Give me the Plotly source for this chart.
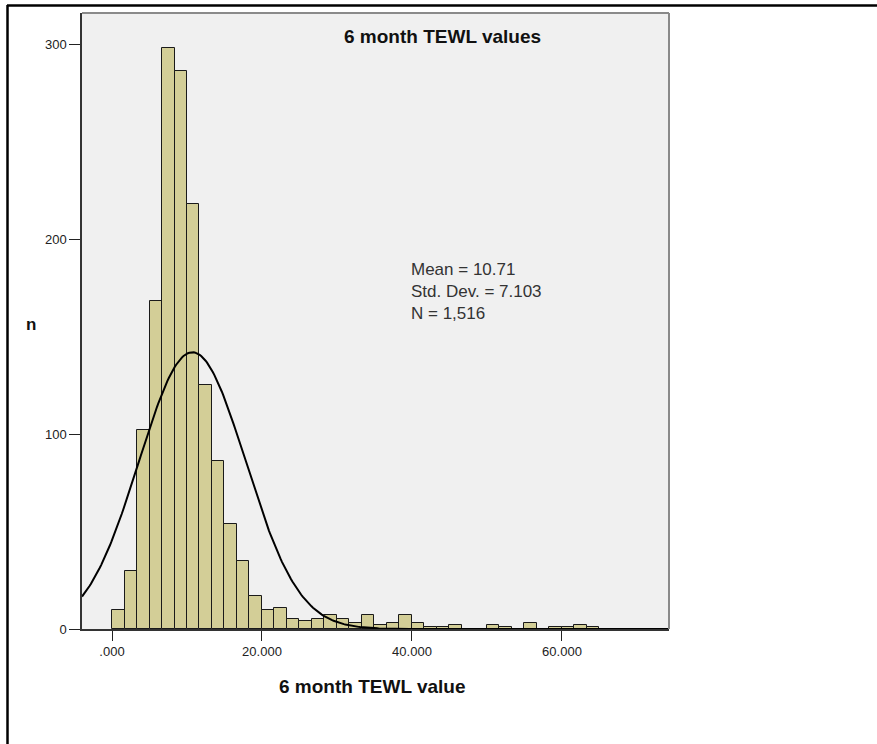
import numpy as np
import plotly.graph_objects as go

# ---- data ----
bin_width = 5.0 / 3.0
bin_starts = [i * bin_width for i in range(39)]
counts = [10, 30, 102, 168, 298, 286, 218, 125, 86, 54, 35, 17,
          10, 11, 5, 4, 5, 7, 5, 3, 7, 2, 3, 7, 3, 1, 1, 2, 0, 0,
          2, 1, 0, 3, 0, 1, 1, 2, 1]
mean_val = 10.71
sd_val = 7.103
n_val = 1516
x_tick_vals = [0, 20, 40, 60]
x_tick_text = [".000", "20.000", "40.000", "60.000"]
y_tick_vals = [0, 100, 200, 300]
y_tick_text = ["0", "100", "200", "300"]
title_text = "6 month TEWL values"
x_title = "6 month TEWL value"
y_title = "n"
stats_lines = ["Mean = 10.71", "Std. Dev. = 7.103", "N = 1,516"]

# ---- layout geometry (pixels) ----
W, H = 877, 744
L, R, T, B = 82, 669, 13, 629
x_range = [-4.0, 74.27]
y_range = [0, 315.9]

def px(xp):
    return (xp - L) / (R - L)

def py(yp):
    return (B - yp) / (B - T)

centers = [s + bin_width / 2 for s in bin_starts]

fig = go.Figure()
fig.add_trace(go.Bar(
    x=centers, y=counts, width=[bin_width] * len(counts),
    marker=dict(color="#D3CE97", line=dict(color="#1a1a1a", width=1)),
    hoverinfo="x+y", showlegend=False,
))

xc = np.linspace(x_range[0], x_range[1], 400)
yc = n_val * bin_width / (sd_val * np.sqrt(2 * np.pi)) * np.exp(-0.5 * ((xc - mean_val) / sd_val) ** 2)
fig.add_trace(go.Scatter(x=xc, y=yc, mode="lines",
                         line=dict(color="#000000", width=2),
                         hoverinfo="skip", showlegend=False))

font_family = "Liberation Sans, Arial, sans-serif"

annotations = [
    dict(text="<b>" + title_text + "</b>", xref="paper", yref="paper",
         x=px(442), y=py(36), xanchor="center", yanchor="middle",
         showarrow=False, font=dict(size=19, color="#111")),
    dict(text="<b>" + x_title + "</b>", xref="paper", yref="paper",
         x=px(372), y=py(686), xanchor="center", yanchor="middle",
         showarrow=False, font=dict(size=19, color="#111")),
    dict(text="<b>" + y_title + "</b>", xref="paper", yref="paper",
         x=px(31), y=py(324), xanchor="center", yanchor="middle",
         showarrow=False, font=dict(size=17, color="#111")),
    dict(text="<br>".join(stats_lines), xref="paper", yref="paper",
         x=px(409), y=py(291), xanchor="left", yanchor="middle",
         align="left", showarrow=False, font=dict(size=17, color="#333")),
]

fig.update_layout(
    width=W, height=H,
    margin=dict(l=L, r=W - R, t=T, b=H - B, pad=0),
    paper_bgcolor="white", plot_bgcolor="#F0F0F0",
    font=dict(family=font_family, color="#222222", size=13),
    bargap=0,
    xaxis=dict(range=x_range, tickvals=x_tick_vals, ticktext=x_tick_text,
               ticks="outside", ticklen=10, tickcolor="#222", tickwidth=1,
               showgrid=False, zeroline=False, showline=True, linecolor="#333333",
               linewidth=1.5, tickfont=dict(size=13, color="#222")),
    yaxis=dict(range=y_range, tickvals=y_tick_vals, ticktext=y_tick_text,
               ticks="outside", ticklen=11, tickcolor="#222", tickwidth=1,
               showgrid=False, zeroline=False, showline=True, linecolor="#333333",
               linewidth=1.5, tickfont=dict(size=13, color="#222")),
    shapes=[
        dict(type="line", xref="paper", yref="paper", x0=0, x1=1, y0=1, y1=1,
             line=dict(color="#8a8a8a", width=2)),
        dict(type="line", xref="paper", yref="paper", x0=1, x1=1, y0=0, y1=1,
             line=dict(color="#8a8a8a", width=2)),
        dict(type="line", xref="paper", yref="paper", x0=px(7), x1=px(W + 5),
             y0=py(5.5), y1=py(5.5), line=dict(color="black", width=2.5)),
        dict(type="line", xref="paper", yref="paper", x0=px(7.5), x1=px(7.5),
             y0=py(5), y1=py(H + 5), line=dict(color="black", width=2.5)),
    ],
    annotations=annotations,
)

fig.write_html("out.html", config={"displayModeBar": False},
               post_script="document.body.style.margin='0';document.body.style.overflow='hidden';")
